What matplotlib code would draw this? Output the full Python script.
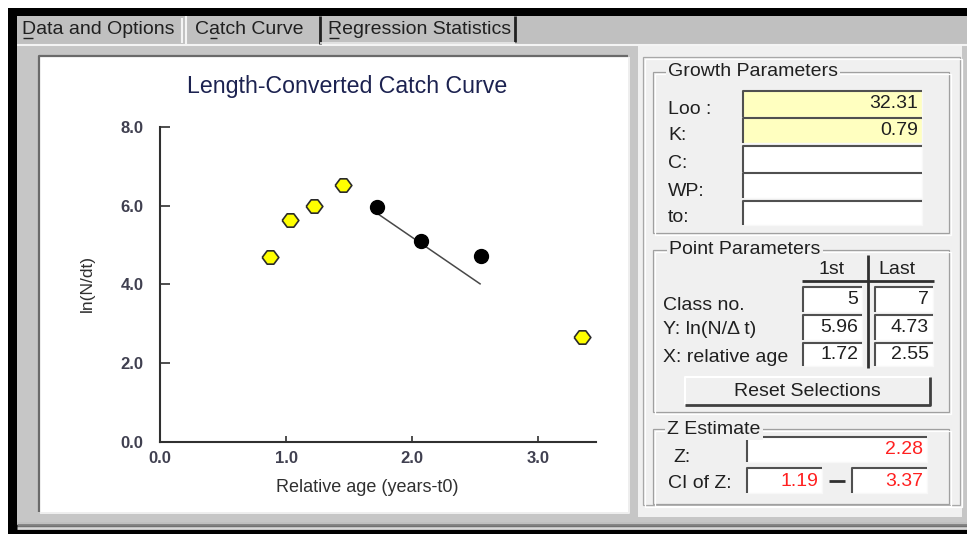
import matplotlib
matplotlib.use("Agg")
import matplotlib.pyplot as plt
from matplotlib.patches import Rectangle

plt.rcParams['font.family'] = ['Liberation Sans', 'DejaVu Sans']

# puntos de la curva de captura (edad relativa, ln(N/dt))
edad_excluida = [0.87, 1.03, 1.22, 1.45, 3.35]
ln_excluida = [4.69, 5.64, 5.99, 6.53, 2.65]
edad_usada = [1.72, 2.07, 2.55]
ln_usada = [5.96, 5.11, 4.73]
# recta de regresion
recta_x = [1.72, 2.54]
recta_y = [5.81, 4.01]
ticks_x = [0, 1, 2, 3]
ticks_y = [0, 2, 4, 6, 8]

# textos del panel derecho
pestanas = ['Data and Options', 'Catch Curve', 'Regression Statistics']
crec_etiquetas = ['Loo :', 'K:', 'C:', 'WP:', 'to:']
crec_valores = ['32.31', '0.79', '', '', '']
punto_etiquetas = ['Class no.', 'Y: ln(N/\u0394 t)', 'X: relative age']
punto_primero = ['5', '5.96', '1.72']
punto_ultimo = ['7', '4.73', '2.55']
z_valor = '2.28'
z_ic = ['1.19', '3.37']

W, H = 967, 534
fig = plt.figure(figsize=(W / 100, H / 100), dpi=100)
fig.patch.set_facecolor('white')

# eje de fondo en pixeles para la ventana
bg = fig.add_axes([0, 0, 1, 1])
bg.set_xlim(0, W)
bg.set_ylim(H, 0)
bg.axis('off')

UI = 14


def rect(x0, y0, x1, y1, color, z=0):
    bg.add_patch(Rectangle((x0, y0), x1 - x0, y1 - y0, facecolor=color,
                           edgecolor='none', zorder=z))


def linea(xs, ys, color, lw=1.1, z=2):
    bg.plot(xs, ys, color=color, lw=lw, zorder=z, solid_capstyle='butt')


def campo(x0, y0, x1, y1, fondo='white'):
    rect(x0, y0, x1, y1, fondo, 1)
    linea([x0, x0, x1], [y1, y0, y0], '#505050', 1.5)
    linea([x0 + 1, x1, x1], [y1, y1, y0 + 1], '#f8f8f8', 1.0)


def grupo(x0, y0, x1, y1, titulo, tx):
    bg.add_patch(Rectangle((x0, y0), x1 - x0, y1 - y0, fill=False,
                           edgecolor='#a0a0a0', lw=0.9, zorder=1))
    bg.add_patch(Rectangle((x0 + 1.5, y0 + 1.5), x1 - x0, y1 - y0, fill=False,
                           edgecolor='white', lw=0.9, zorder=1))
    bg.text(tx, y0, titulo, ha='left', va='center', fontsize=UI, color='#202020',
            zorder=3, bbox=dict(facecolor='#f0f0f0', edgecolor='none', pad=1.5))


# marco de la ventana
rect(8, 8, W, H, 'black')
rect(17, 16, W, 525, '#c0c0c0')
linea([17, W], [525, 525], '#808080', 2)
linea([17, W], [527.5, 527.5], '#d8d8d8', 2)

# pestanas
rect(17, 44, W, 522, '#c6c6c6')
linea([17, W], [44.5, 44.5], '#f4f4f4', 1.5)
linea([182, 182], [18, 43], '#f4f4f4', 1.5)
linea([186, 186], [16, 44], '#f4f4f4', 1.5)
linea([320, 320], [16, 44], '#202020', 2)
linea([515, 515], [16, 42], '#202020', 2)
linea([320, 515], [42.5, 42.5], '#e8e8e8', 1.2)
tab_x = [22, 195, 328]
for t, x in zip(pestanas, tab_x):
    bg.text(x, 29, t, ha='left', va='center', fontsize=UI, color='#202020')
linea([23, 33], [38, 38], '#202020', 1)
linea([210, 217], [38, 38], '#202020', 1)
linea([329, 339], [38, 38], '#202020', 1)

# panel del grafico
rect(40, 57, 628, 512, 'white', 0.5)
linea([39, 39, 628], [512, 56, 56], '#6a6a6a', 1.6)
linea([40, 628.5, 628.5], [513, 513, 57], '#f0f0f0', 1.4)

# panel derecho
rect(638, 46, 962, 517, '#f0f0f0', 0.5)
bg.add_patch(Rectangle((643, 57), 317, 448, fill=False, edgecolor='#a8a8a8',
                       lw=0.9, zorder=1))
bg.add_patch(Rectangle((644.5, 58.5), 317, 448, fill=False, edgecolor='white',
                       lw=0.9, zorder=1))

# Growth Parameters
grupo(653, 72, 949, 233, 'Growth Parameters', 668)
caja_y = [(91, 117), (118, 143), (146, 172), (173, 198), (201, 225)]
etq_y = [110, 135, 163, 192, 218]
for i, (et, val) in enumerate(zip(crec_etiquetas, crec_valores)):
    y0, y1 = caja_y[i]
    fondo = '#ffffc0' if val else 'white'
    campo(743, y0, 922, y1, fondo)
    bg.text(668, etq_y[i], et, ha='left', va='center', fontsize=UI, color='#202020')
    if val:
        bg.text(918, (y0 + y1) / 2, val, ha='right', va='center', fontsize=UI,
                color='#202020', zorder=3)

# Point Parameters
grupo(653, 250, 949, 412, 'Point Parameters', 669)
bg.text(832, 269, '1st', ha='center', va='center', fontsize=UI, color='#202020')
bg.text(897, 269, 'Last', ha='center', va='center', fontsize=UI, color='#202020')
linea([802, 934], [281, 281], '#303030', 2)
linea([868, 868], [255, 368], '#303030', 2)
fila_y = [(287, 312), (315, 340), (343, 366)]
etq_y2 = [306, 329, 357]
for i in range(3):
    y0, y1 = fila_y[i]
    campo(803, y0, 862, y1)
    campo(875, y0, 933, y1)
    bg.text(663, etq_y2[i], punto_etiquetas[i], ha='left', va='center',
            fontsize=UI, color='#202020')
    bg.text(858, (y0 + y1) / 2, punto_primero[i], ha='right', va='center',
            fontsize=UI, color='#202020', zorder=3)
    bg.text(929, (y0 + y1) / 2, punto_ultimo[i], ha='right', va='center',
            fontsize=UI, color='#202020', zorder=3)

# boton Reset
rect(685, 377, 930, 405, '#f0f0f0', 1)
linea([685, 685, 930], [405, 377, 377], 'white', 1.5)
linea([685, 930, 930], [405, 405, 377], '#404040', 2)
bg.text(807, 391, 'Reset Selections', ha='center', va='center', fontsize=UI,
        color='#202020', zorder=3)

# Z Estimate
grupo(653, 429, 949, 504, 'Z Estimate', 667)
campo(747, 437, 927, 462)
bg.text(673, 457, 'Z:', ha='left', va='center', fontsize=UI, color='#202020')
bg.text(923, 450, z_valor, ha='right', va='center', fontsize=UI, color='#ff2020',
        zorder=3)
bg.text(668, 483, 'CI of Z:', ha='left', va='center', fontsize=UI, color='#202020')
campo(747, 468, 822, 493)
campo(852, 468, 927, 493)
bg.text(818, 481, z_ic[0], ha='right', va='center', fontsize=UI, color='#ff2020',
        zorder=3)
bg.text(923, 481, z_ic[1], ha='right', va='center', fontsize=UI, color='#ff2020',
        zorder=3)
linea([829, 845], [481, 481], '#303030', 2)

# titulo del grafico
bg.text(347, 87, 'Length-Converted Catch Curve', ha='center', va='center',
        fontsize=16.7, color='#1c2250', zorder=3)

# grafico de datos
ax = fig.add_axes([160 / W, 1 - 441.5 / H, 436 / W, 314.5 / H])
ax.patch.set_alpha(0)
ax.set_xlim(0, 3.46)
ax.set_ylim(0, 8)
rombo = [(-1, 0), (-0.4, 0.8), (0.4, 0.8), (1, 0), (0.4, -0.8), (-0.4, -0.8), (-1, 0)]
ax.plot(recta_x, recta_y, color='#484848', lw=1.1, zorder=2)
ax.plot(edad_excluida, ln_excluida, linestyle='none', marker=rombo, ms=12,
        mfc='#ffff00', mec='#2a2a2a', mew=1.2, zorder=3, clip_on=False)
ax.plot(edad_usada, ln_usada, linestyle='none', marker='o', ms=10,
        mfc='black', mec='black', zorder=3, clip_on=False)
for s in ['top', 'right']:
    ax.spines[s].set_visible(False)
for s in ['left', 'bottom']:
    ax.spines[s].set_color('#303030')
    ax.spines[s].set_linewidth(1.5)
ax.set_xticks(ticks_x)
ax.set_xticklabels([f'{v:.1f}' for v in ticks_x])
ax.set_yticks(ticks_y)
ax.set_yticklabels([f'{v:.1f}' for v in ticks_y])
ax.tick_params(direction='in', color='#303030', width=1.2,
               labelsize=12, labelcolor='#404050')
ax.tick_params(axis='x', length=4.5, pad=6.5)
ax.tick_params(axis='y', length=7, pad=12)
for lab in ax.get_xticklabels() + ax.get_yticklabels():
    lab.set_fontweight('bold')
ax.set_xlabel('Relative age (years-t0)', fontsize=13, color='#303030')
ax.set_ylabel('ln(N/dt)', fontsize=12.5, color='#303030')
ax.xaxis.set_label_coords(0.475, -0.12)
ax.yaxis.set_label_coords(-0.15, 0.503)

fig.savefig('out.png', dpi=100)
